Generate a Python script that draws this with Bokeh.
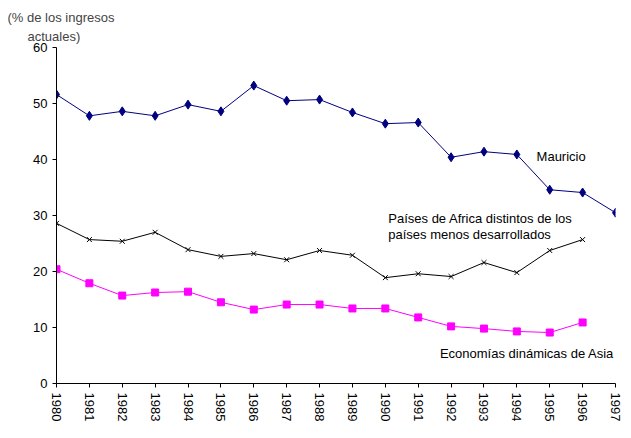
from bokeh.plotting import figure
from bokeh.models import Range1d, FixedTicker, Label, Title
from bokeh.embed import file_html
from bokeh.resources import INLINE

years = list(range(1980, 1998))
mauricio = [51.6, 47.8, 48.6, 47.8, 49.8, 48.6, 53.2, 50.5, 50.7, 48.4,
            46.4, 46.6, 40.4, 41.4, 40.9, 34.6, 34.1, 30.5]
africa_years = list(range(1980, 1997))
africa = [28.6, 25.7, 25.4, 27.0, 23.9, 22.7, 23.2, 22.1, 23.75, 22.9,
          18.9, 19.6, 19.1, 21.6, 19.8, 23.75, 25.7]
asia_years = list(range(1980, 1997))
asia = [20.4, 17.9, 15.7, 16.25, 16.4, 14.5, 13.2, 14.1, 14.1, 13.4,
        13.4, 11.8, 10.2, 9.8, 9.3, 9.1, 10.9]
y_ticks = [0, 10, 20, 30, 40, 50, 60]
y_title = ["(% de los ingresos", "actuales)"]
label_mauricio = "Mauricio"
label_africa = ["Países de Africa distintos de los", "países menos desarrollados"]
label_asia = "Economías dinámicas de Asia"

FONT = "Liberation Sans"
FS = "13px"

p = figure(width=623, height=430, output_backend="svg", toolbar_location=None,
           x_range=Range1d(1980, 1997), y_range=Range1d(0, 60),
           min_border_left=56, min_border_right=8, min_border_top=47,
           min_border_bottom=47)
p.outline_line_color = None
p.xgrid.visible = False
p.ygrid.visible = False
p.background_fill_color = "white"
p.border_fill_color = "white"

for ax in (p.xaxis[0], p.yaxis[0]):
    ax.axis_line_color = "black"
    ax.major_tick_line_color = "black"
    ax.minor_tick_line_color = None
    ax.major_tick_in = 0
    ax.major_tick_out = 4
    ax.major_label_text_font = FONT
    ax.major_label_text_font_size = FS
    ax.major_label_text_color = "black"

p.xaxis.ticker = FixedTicker(ticks=years)
p.xaxis.major_label_orientation = "vertical"
p.xaxis.major_label_standoff = 5
p.yaxis.ticker = FixedTicker(ticks=y_ticks)
p.yaxis.major_label_standoff = 5

# y-axis title as two stacked titles
p.title.text = y_title[0]
p.title.align = "left"
p.title.offset = -49
p.title.standoff = -4
p.title.text_font = FONT
p.title.text_font_size = FS
p.title.text_font_style = "normal"
p.add_layout(Title(text=y_title[1], align="left", offset=-29, standoff=8,
                   text_font=FONT, text_font_size=FS,
                   text_font_style="normal"), "above")

p.line(years, mauricio, line_color="#000080", line_width=1)
p.scatter(years, mauricio, marker="diamond", size=9, fill_color="#000080",
          line_color="#000080")

p.line(africa_years, africa, line_color="black", line_width=1)
p.scatter(africa_years, africa, marker="x", size=7, line_color="black")

p.line(asia_years, asia, line_color="#FF00FF", line_width=1)
p.scatter(asia_years, asia, marker="square", size=7, fill_color="#FF00FF",
          line_color="#FF00FF")


def data_label(x, y, text):
    p.add_layout(Label(x=x, y=y, text=text, text_font=FONT, text_font_size=FS,
                       text_color="black", text_align="left",
                       text_baseline="middle"))


data_label(1994.6, 40.5, label_mauricio)
data_label(1990.09, 29.45, label_africa[0])
data_label(1990.09, 26.55, label_africa[1])
data_label(1991.66, 5.4, label_asia)

html = file_html(p, INLINE)
open("out.html", "w").write(html)
